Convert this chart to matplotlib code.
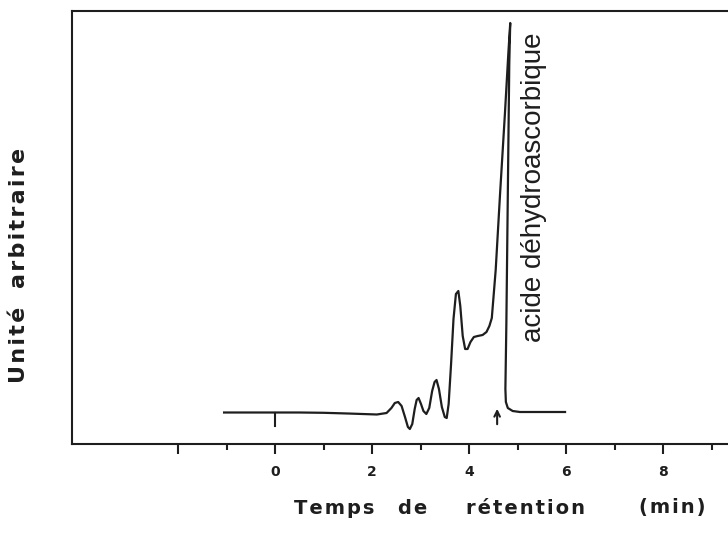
import numpy as np
import matplotlib
matplotlib.use("Agg")
import matplotlib.pyplot as plt

plt.rcParams.update({
    "font.family": "DejaVu Sans",
    "axes.linewidth": 1.5,
    "xtick.major.width": 1.5,
    "xtick.minor.width": 1.5,
})

# --- Chromatogram trace (y in arbitrary units) ---
t_min = [-1.05, -0.5, 0.0, 0.5, 1.0, 1.5, 1.8, 2.1, 2.3, 2.4, 2.47, 2.54,
         2.61, 2.68, 2.74, 2.78, 2.83, 2.88, 2.92, 2.96, 3.01, 3.06, 3.12,
         3.18, 3.24, 3.29, 3.33, 3.38, 3.44, 3.50, 3.54, 3.58, 3.63, 3.68,
         3.73, 3.78, 3.82, 3.87, 3.92, 3.97, 4.03, 4.10, 4.18, 4.28, 4.36,
         4.42, 4.47, 4.55, 4.64, 4.74, 4.81, 4.85, 4.83, 4.80, 4.77, 4.75,
         4.76, 4.80, 4.90, 5.05, 5.5, 5.98]
signal = [31.5, 31.5, 31.5, 31.5, 31.2, 30.5, 30.0, 29.5, 31.0, 36.0, 41.0, 42.0,
          38.0, 27.0, 17.0, 15.0, 20.0, 35.0, 44.0, 46.0, 40.0, 33.0, 30.0,
          36.0, 53.0, 62.0, 64.0, 55.0, 37.0, 27.0, 26.0, 40.0, 80.0, 125.0,
          150.0, 153.0, 138.0, 108.0, 95.0, 95.0, 102.0, 107.0, 108.0, 109.0, 112.0,
          118.0, 126.0, 174.0, 250.0, 330.0, 390.0, 421.0, 380.0, 250.0, 120.0, 55.0,
          42.0, 36.0, 33.0, 32.0, 32.0, 32.0]

major_ticks = [-2, 0, 2, 4, 6, 8]
major_labels = ["", "0", "2", "4", "6", "8"]
minor_ticks = [-1, 1, 3, 5, 7, 9]

INJECT_T = 0.0      # injection mark
PEAK_T = 4.58       # arrow under the main peak
LINE_COLOR = "#1e1e1e"

# --- Figure ---
fig = plt.figure(figsize=(7.28, 5.45), dpi=100)
ax = fig.add_axes([72 / 728, 101 / 545, 656 / 728, 433 / 545])

ax.plot(t_min, signal, color=LINE_COLOR, lw=1.6, solid_joinstyle="round")

# injection mark hanging below the baseline
ax.plot([INJECT_T, INJECT_T], [31, 18], color=LINE_COLOR, lw=1.5)

# arrow pointing up at the peak
ax.annotate("", xy=(PEAK_T, 38), xytext=(PEAK_T, 17),
            arrowprops=dict(arrowstyle="->", color=LINE_COLOR, lw=1.5,
                            mutation_scale=10))

ax.text(5.34, 257, "acide déhydroascorbique", rotation=90,
        ha="center", va="center", fontsize=20,
        family=["Liberation Sans", "DejaVu Sans"], color=LINE_COLOR)

ax.set_xlim(-4.186, 9.34)
ax.set_ylim(0, 433)

ax.spines["right"].set_visible(False)
for side in ("left", "top", "bottom"):
    ax.spines[side].set_color(LINE_COLOR)

ax.set_xticks(major_ticks)
ax.set_xticklabels(major_labels, fontsize=10, fontweight="bold")
ax.set_xticks(minor_ticks, minor=True)
ax.tick_params(axis="x", which="major", length=7, pad=8, colors=LINE_COLOR)
ax.tick_params(axis="x", which="minor", length=4.5, colors=LINE_COLOR)
ax.set_yticks([])

# --- Axis labels, word by word to keep the wide spacing ---
HAIR = "\u200a"
xlab_words = [("Temps", 334), ("de", 413), ("rétention", 525), ("(min)", 672)]
for word, px in xlab_words:
    fig.text(px / 728, 1 - 508 / 545, HAIR.join(word), ha="center", va="center",
             fontsize=14, fontweight="bold", color=LINE_COLOR)

ylab_words = [("Unité", 345), ("arbitraire", 218)]
for word, py in ylab_words:
    fig.text(19 / 728, 1 - py / 545, HAIR.join(word), ha="center", va="center",
             rotation=90, fontsize=16, fontweight="bold", color=LINE_COLOR)

plt.savefig("out.png", dpi=100)
